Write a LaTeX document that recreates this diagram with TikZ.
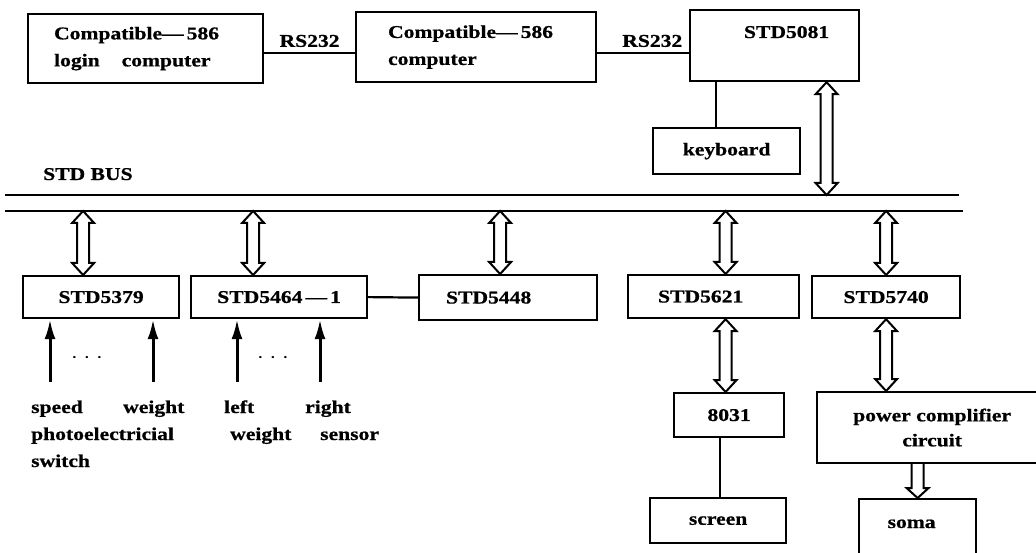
\documentclass[tikz,border=0pt]{standalone}
\usepackage{fontspec}
\setmainfont{Liberation Serif}[FakeStretch=1.2,BoldFeatures={FakeBold=0.8}]
\usetikzlibrary{arrows.meta,calc}

\newcommand{\twoway}[2]{%
  \draw[hollow] let \p1=(#1), \p2=(#2) in
    (\x1,\y1) -- (\x1-11pt,\y1-12pt) -- (\x1-6pt,\y1-12pt) -- (\x1-6pt,\y2+12pt)
    -- (\x1-11pt,\y2+12pt) -- (\x1,\y2) -- (\x1+11pt,\y2+12pt) -- (\x1+6pt,\y2+12pt)
    -- (\x1+6pt,\y1-12pt) -- (\x1+11pt,\y1-12pt) -- cycle;}
\newcommand{\oneway}[2]{%
  \draw[hollow] let \p1=(#1), \p2=(#2) in
    (\x1-6pt,\y1) -- (\x1-6pt,\y2+10pt) -- (\x1-11pt,\y2+10pt) -- (\x1,\y2)
    -- (\x1+11pt,\y2+10pt) -- (\x1+6pt,\y2+10pt) -- (\x1+6pt,\y1);}

\begin{document}
\begin{tikzpicture}[x=1pt,y=-1pt,
      font=\bfseries\fontsize{18}{22}\selectfont,
      unit/.style={draw,line width=2.2pt,anchor=north west,inner sep=0pt,align=center},
      pc/.style={unit,align=left,font=\bfseries\fontsize{18}{27}\selectfont},
      link/.style={line width=2.2pt},
      hollow/.style={line width=2pt,fill=white,line join=miter},
      feed/.style={line width=3pt,-{Latex[length=20pt,width=11pt]}},
      txt/.style={anchor=base west,inner sep=0pt}
    ]
    \useasboundingbox[fill=white] (0,0) rectangle (1036,553);
    \node[pc,text width=183pt,inner xsep=26pt,minimum height=69] (login) at (27,13) {Compatible—\,586\\login\hspace{22pt}computer};
    \node[pc,text width=176pt,inner xsep=32pt,minimum height=70] (host) at (355,11) {Compatible—\,586\\computer};
    \node[unit,minimum width=169,minimum height=71,
      label={[inner sep=0pt,anchor=base,xshift=12pt,yshift=-29pt]north:STD5081}] (std5081) at (689,9) {};
    \node[unit,minimum width=147,minimum height=46] (kbd) at (652,127) {keyboard};
    \draw[link] ([yshift=-4.5pt]login.east) -- ([yshift=-4.5pt]login.east -| host.west) node[midway,above=5pt,inner sep=0pt] {RS232};
    \draw[link] ([yshift=-6pt]host.east) -- ([yshift=-6pt]host.east -| std5081.west) node[pos=0.6,above=5pt,inner sep=0pt] {RS232};
    \draw[link] ([xshift=-11pt]kbd.north) -- ([xshift=-11pt]kbd.north |- std5081.south);

    \node[txt] (busname) at (43,180) {STD BUS};
    \coordinate (busAw) at (5,195);
    \coordinate (busAe) at (959,195);
    \coordinate (busBw) at (5,211);
    \coordinate (busBe) at (963,211);
    \draw[link] (busAw) -- (busAe);
    \draw[link] (busBw) -- (busBe);
    \twoway{[xshift=52pt]std5081.south}{[xshift=52pt]std5081.south |- busAw}

    \node[unit,minimum width=156,minimum height=42] (s5379) at (22,275) {STD5379};
    \node[unit,minimum width=176,minimum height=42] (s5464) at (190,275) {STD5464\,—\,1};
    \node[unit,align=left,text width=124pt,inner xsep=27pt,minimum height=45] (s5448) at (418,274) {STD5448};
    \node[unit,align=left,text width=111pt,inner xsep=30pt,minimum height=43] (s5621) at (627,274) {STD5621};
    \node[unit,minimum width=148,minimum height=42] (s5740) at (811,275) {STD5740};
    \draw[link] (s5464.east) -- (s5448.west);
    \twoway{[xshift=-18pt]s5379.north |- busBw}{[xshift=-18pt]s5379.north}
    \twoway{[xshift=-26pt]s5464.north |- busBw}{[xshift=-26pt]s5464.north}
    \twoway{[xshift=-8pt]s5448.north |- busBw}{[xshift=-8pt]s5448.north}
    \twoway{[xshift=12pt]s5621.north |- busBw}{[xshift=12pt]s5621.north}
    \twoway{s5740.north |- busBw}{s5740.north}

    \coordinate (speedin) at (50,382);
    \coordinate (weightin) at (153,382);
    \coordinate (leftin) at (237,382);
    \coordinate (rightin) at (320,382);
    \draw[feed] (speedin) -- (speedin |- s5379.south);
    \draw[feed] (weightin) -- (weightin |- s5379.south);
    \draw[feed] (leftin) -- (leftin |- s5464.south);
    \draw[feed] (rightin) -- (rightin |- s5464.south);
    \node[inner sep=0pt,font=\fontsize{18}{22}\selectfont] (dotsA) at (87,360) {· · ·};
    \node[inner sep=0pt,font=\fontsize{18}{22}\selectfont] (dotsB) at (273,360) {· · ·};
    \node[txt] (speed) at (31,413) {speed};
    \node[txt] (weight) at (123,413) {weight};
    \node[txt] (left) at (224,413) {left};
    \node[txt] (right) at (305,413) {right};
    \node[txt] (photo) at (31,440) {photoelectricial};
    \node[txt] (lrweight) at (230,440) {weight};
    \node[txt] (sensor) at (320,440) {sensor};
    \node[txt] (switch) at (31,467) {switch};

    \node[unit,minimum width=110,minimum height=44] (c8031) at (673,392) {8031};
    \node[unit,minimum width=136,minimum height=45] (screen) at (649,497) {screen};
    \node[unit,minimum width=230,minimum height=71,font=\bfseries\fontsize{18}{25}\selectfont] (power) at (816,391) {power complifier\\circuit};
    \node[unit,minimum width=117,minimum height=70,
      label={[inner sep=0pt,anchor=base,xshift=-6pt,yshift=-30pt]north:soma}] (soma) at (858,498) {};
    \twoway{[xshift=12pt]s5621.south}{[xshift=12pt]s5621.south |- c8031.north}
    \draw[link] ([xshift=2pt]screen.north |- c8031.south) -- ([xshift=2pt]screen.north);
    \twoway{s5740.south}{s5740.south |- power.north}
    \oneway{soma.north |- power.south}{soma.north}
  \end{tikzpicture}
\end{document}
